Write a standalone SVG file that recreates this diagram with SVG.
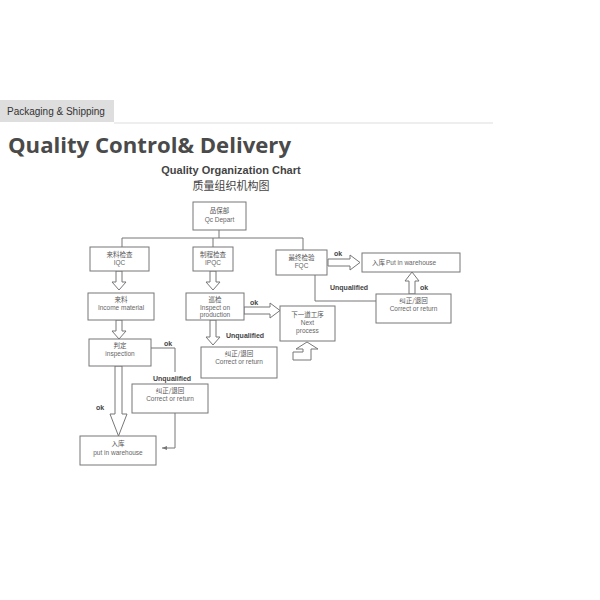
<svg xmlns="http://www.w3.org/2000/svg" width="600" height="600" viewBox="0 0 600 600">
<style>
.box{fill:#fff;stroke:#777;stroke-width:1}
.ln{fill:none;stroke:#777;stroke-width:1}
.ha{fill:#fff;stroke:#777;stroke-width:1}
.cn{font-family:"Noto Sans CJK SC","Liberation Sans",sans-serif;font-size:6.5px;fill:#555;text-anchor:middle}
.en{font-family:"Liberation Sans",sans-serif;font-size:6.5px;fill:#666;text-anchor:middle}
.lb{font-family:"Liberation Sans",sans-serif;font-size:7px;font-weight:bold;fill:#444}
</style>
<defs>
<marker id="ah" markerWidth="6" markerHeight="6" refX="5" refY="3" orient="auto" markerUnits="userSpaceOnUse">
<path d="M0,1 L5,3 L0,5 Z" fill="#777"/>
</marker>
</defs>
<rect x="0" y="0" width="600" height="600" fill="#fff"/>
<rect x="0" y="100" width="114" height="22" fill="#dedede"/>
<text x="7" y="115" font-family="Liberation Sans,sans-serif" font-size="10" fill="#333">Packaging &amp; Shipping</text>
<line x1="114" y1="123" x2="493" y2="123" stroke="#ddd" stroke-width="1"/>
<text x="8" y="153" font-family="Open Sans,Liberation Sans,sans-serif" font-size="22" font-weight="bold" fill="#4a4a4a" textLength="283" lengthAdjust="spacingAndGlyphs">Quality Control&amp; Delivery</text>
<text x="231" y="174" font-family="Liberation Sans,sans-serif" font-size="11" font-weight="bold" fill="#444" text-anchor="middle">Quality Organization Chart</text>
<text x="231" y="190" font-family="Noto Sans CJK SC,sans-serif" font-size="11" fill="#444" text-anchor="middle">质量组织机构图</text>

<g id="connectors">
<path class="ln" d="M219,230 V238 M122,238 H303 M122,238 V247 M213,238 V247 M303,238 V250"/>
<path class="ln" d="M315,275 V301 H376"/>
<path class="ln" d="M151,348 H175 V372"/>
<path class="ln" d="M175,413 V448 H162" marker-end="url(#ah)"/>
<path class="ha" d="M116,271 H122 V282 H126 L119,290 L112,282 H116 Z"/>
<path class="ha" d="M116,320 H122 V331 H126 L119,339 L112,331 H116 Z"/>
<path class="ha" d="M115,366 H122 V414 H127 L118.5,436 L110,414 H115 Z"/>
<path class="ha" d="M210,271 H216 V282 H220 L213,290 L206,282 H210 Z"/>
<path class="ha" d="M210,320 H216 V337 H220 L213,345 L206,337 H210 Z"/>
<path class="ha" d="M244,307 H270 V303 L280,310.5 L270,318 V314 H244 Z"/>
<path class="ha" d="M328,259 H350 V255 L360,262.5 L350,270 V266 H328 Z"/>
<path class="ha" d="M409,294 V281 H405 L412,272 L419,281 H415 V294 Z"/>
<path class="ha" d="M293,352 H303 V349 H296 L307,342 L318,349 H311 V360 H293 Z"/>
<text class="lb" x="334" y="256">ok</text>
<text class="lb" x="330" y="290">Unqualified</text>
<text class="lb" x="420" y="290">ok</text>
<text class="lb" x="250" y="305">ok</text>
<text class="lb" x="226" y="338">Unqualified</text>
<text class="lb" x="164" y="346">ok</text>
<text class="lb" x="153" y="381">Unqualified</text>
<text class="lb" x="96" y="410">ok</text>
</g>

<g id="qc"><rect class="box" x="193" y="202" width="53" height="28"/><text class="cn" x="219.5" y="213">品保部</text><text class="en" x="219.5" y="222">Qc Depart</text></g>
<g id="iqc"><rect class="box" x="90" y="247" width="59" height="24"/><text class="cn" x="119.5" y="257">来料检查</text><text class="en" x="119.5" y="265">IQC</text></g>
<g id="ipqc"><rect class="box" x="193" y="247" width="40" height="24"/><text class="cn" x="213" y="257">制程检查</text><text class="en" x="213" y="265">IPQC</text></g>
<g id="fqc"><rect class="box" x="276" y="250" width="51" height="25"/><text class="cn" x="301.5" y="260">最终检验</text><text class="en" x="301.5" y="268">FQC</text></g>
<g id="wh1"><rect class="box" x="362" y="253" width="98" height="19"/><text class="cn" x="372" y="265" style="text-anchor:start">入库</text><text class="en" x="386" y="265" style="text-anchor:start">Put in warehouse</text></g>
<g id="cr1"><rect class="box" x="376" y="294" width="75" height="29"/><text class="cn" x="413.5" y="303">纠正/退回</text><text class="en" x="413.5" y="311">Correct or return</text></g>
<g id="income"><rect class="box" x="88" y="293" width="66" height="27"/><text class="cn" x="121" y="302">来料</text><text class="en" x="121" y="310">Income material</text></g>
<g id="insp"><rect class="box" x="89" y="339" width="62" height="27"/><text class="cn" x="120" y="348">判定</text><text class="en" x="120" y="356">inspection</text></g>
<g id="patrol"><rect class="box" x="186" y="293" width="58" height="27"/><text class="cn" x="215" y="302">巡检</text><text class="en" x="215" y="310">Inspect on</text><text class="en" x="215" y="317">production</text></g>
<g id="next"><rect class="box" x="280" y="306" width="55" height="35"/><text class="cn" x="307.5" y="317">下一道工序</text><text class="en" x="307.5" y="325">Next</text><text class="en" x="307.5" y="333">process</text></g>
<g id="cr2"><rect class="box" x="201" y="347" width="76" height="31"/><text class="cn" x="239" y="356">纠正/退回</text><text class="en" x="239" y="364">Correct or return</text></g>
<g id="cr3"><rect class="box" x="132" y="384" width="76" height="29"/><text class="cn" x="170" y="393">纠正/退回</text><text class="en" x="170" y="401">Correct or return</text></g>
<g id="wh2"><rect class="box" x="80" y="436" width="76" height="29"/><text class="cn" x="118" y="446">入库</text><text class="en" x="118" y="455">put in warehouse</text></g>
</svg>
